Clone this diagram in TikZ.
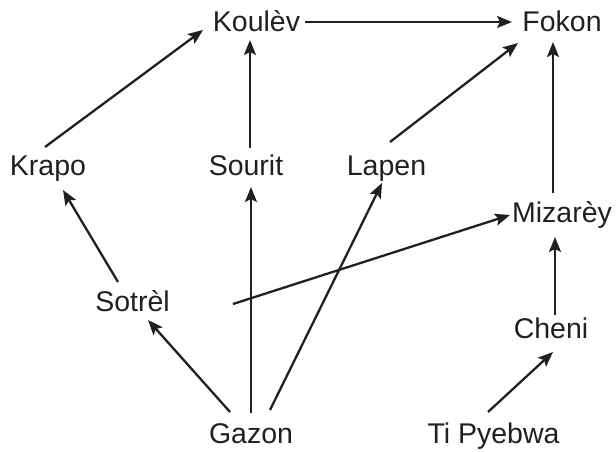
\documentclass[tikz,border=0pt]{standalone}
\usepackage{fontspec}
\setmainfont{Liberation Sans}
\usetikzlibrary{arrows.meta}
\definecolor{ink}{HTML}{231F20}
\begin{document}
\begin{tikzpicture}[x=1pt,y=-1pt,
  lbl/.style={anchor=base,inner sep=0pt,text=ink,font=\fontsize{28.5}{34}\selectfont},
  arr/.style={draw=ink,line width=2.3pt,-{Stealth[length=15pt,width=12pt,inset=3pt]}}]
\useasboundingbox (0,0) rectangle (616,452);
\node[lbl] (koulev) at (256.5,32) {Koulèv};
\node[lbl] (fokon) at (562,32) {Fokon};
\node[lbl] (krapo) at (48,175) {Krapo};
\node[lbl] (sourit) at (246,175) {Sourit};
\node[lbl] (lapen) at (386.5,175) {Lapen};
\node[lbl] (mizarey) at (562,222) {Mizarèy};
\node[lbl] (sotrel) at (132.5,311) {Sotrèl};
\node[lbl] (cheni) at (551,338) {Cheni};
\node[lbl] (gazon) at (251,443) {Gazon};
\node[lbl] (tipyebwa) at (493.5,443) {Ti Pyebwa};
\draw[arr] ([shift={(-3,-28)}]krapo.base) -- ([shift={(-53.5,-2)}]koulev.base);
\draw[arr] ([shift={(48.5,-10)}]koulev.base) -- ([shift={(-50,-10)}]fokon.base);
\draw[arr] ([shift={(4,-27)}]sourit.base) -- ([shift={(-6.5,8)}]koulev.base);
\draw[arr] ([shift={(3.5,-33)}]lapen.base) -- ([shift={(-44,11)}]fokon.base);
\draw[arr] ([shift={(-9,-29)}]mizarey.base) -- ([shift={(-9,10)}]fokon.base);
\draw[arr] ([shift={(-14.5,-29)}]sotrel.base) -- ([shift={(15,15)}]krapo.base);
\draw[arr] ([shift={(100.5,-7)}]sotrel.base) -- ([shift={(-52,-7)}]mizarey.base);
\draw[arr] ([shift={(-21,-31)}]gazon.base) -- ([shift={(15.5,9)}]sotrel.base);
\draw[arr] ([shift={(0,-30)}]gazon.base) -- ([shift={(5,12)}]sourit.base);
\draw[arr] ([shift={(19,-33)}]gazon.base) -- ([shift={(-4.5,8)}]lapen.base);
\draw[arr] ([shift={(4,-23)}]cheni.base) -- ([shift={(-7,15)}]mizarey.base);
\draw[arr] ([shift={(-5.5,-31)}]tipyebwa.base) -- ([shift={(2,14)}]cheni.base);
\end{tikzpicture}
\end{document}
